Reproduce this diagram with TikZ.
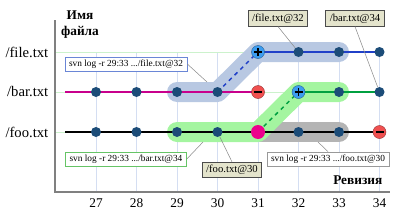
\documentclass[tikz,border=0pt]{standalone}
\usepackage{fontspec}
\setmainfont{Liberation Serif}
\definecolor{bandblue}{HTML}{B8C8E2}
\definecolor{bandgreen}{HTML}{A4F5A0}
\definecolor{bandgray}{HTML}{B4B4B4}
\definecolor{lineblue}{HTML}{2040C8}
\definecolor{linemag}{HTML}{C8008C}
\definecolor{linegreen}{HTML}{00A040}
\definecolor{dotblue}{HTML}{1C4C78}
\definecolor{plusblue}{HTML}{3C9CF0}
\definecolor{minusred}{HTML}{F05050}
\definecolor{khaki}{HTML}{E4E4CC}
\definecolor{gridblue}{HTML}{D4DEF2}
\definecolor{gridgreen}{HTML}{CCF2CC}
\definecolor{axisgray}{HTML}{808080}
\definecolor{boxblue}{HTML}{6A86D6}
\definecolor{boxgreen}{HTML}{66C466}
\begin{document}
\begin{tikzpicture}[x=0.75pt,y=-0.75pt,
 band/.style={line width=15pt, line cap=round, line join=round},
 dot/.style={circle, fill=dotblue, inner sep=0pt, minimum size=7.5pt},
 addnode/.style={circle, fill=plusblue, draw=plusblue!60!black, line width=0.3pt, inner sep=0pt, minimum size=9.75pt,
   path picture={\draw[black,line width=0.9pt] ([xshift=-3pt]path picture bounding box.center) -- ([xshift=3pt]path picture bounding box.center) ([yshift=-3pt]path picture bounding box.center) -- ([yshift=3pt]path picture bounding box.center);}},
 delnode/.style={circle, fill=minusred, draw=minusred!60!black, line width=0.3pt, inner sep=0pt, minimum size=9.75pt,
   path picture={\draw[black,line width=0.9pt] ([xshift=-3pt]path picture bounding box.center) -- ([xshift=3pt]path picture bounding box.center);}},
 mergenode/.style={circle, fill=magenta, inner sep=0pt, minimum size=10.5pt},
 svnbox/.style={draw, fill=white, font=\fontsize{7}{8}\selectfont, inner xsep=3pt, inner ysep=0pt, minimum height=10.5pt, line width=0.6pt},
 tagbox/.style={draw=black!70, fill=khaki, font=\fontsize{8}{9}\selectfont, inner xsep=3pt, inner ysep=0pt, minimum height=11.5pt, line width=0.6pt},
 callout/.style={draw=black!45, line width=0.4pt},
 rowlabel/.style={anchor=east, font=\fontsize{11}{13}\selectfont},
 ticklabel/.style={font=\fontsize{10}{12}\selectfont},
 gridv/.style={draw=gridblue, line width=0.7pt},
 gridh/.style={draw=gridgreen, line width=0.7pt},
]
\useasboundingbox (0,0) rectangle (400,218);
% coordinates
\foreach \r in {27,...,34}{
  \pgfmathsetmacro{\xx}{96+(\r-27)*40.5}
  \coordinate (F\r) at (\xx,52);
  \coordinate (B\r) at (\xx,92);
  \coordinate (O\r) at (\xx,132);
  \coordinate (G\r) at (\xx,192);
}
\coordinate (Fs) at (55,52);
\coordinate (Bs) at (55,92);
\coordinate (Os) at (55,132);
\coordinate (Bl) at (65,92);
\coordinate (Ol) at (65,132);
\coordinate (Atop) at (55,20);
\coordinate (Aorig) at (55,192);
\coordinate (Aright) at (390,192);
% grid
\foreach \r in {27,...,34}{ \draw[gridv] (F\r) -- (G\r); }
\draw[gridh] (Fs) -- (F34);
\draw[gridh] (Bs) -- (B34);
\draw[gridh] (Os) -- (O34);
% axes
\draw[axisgray, line width=0.9pt] (Atop) -- (Aorig) -- (Aright);
% bands
\draw[band, bandgray] (O31) -- (O33);
\draw[band, bandblue] (B29) -- (B30) -- (F31) -- (F33);
\draw[band, bandgreen] (O29) -- (O31) -- (B32) -- (B33);
% lines
\draw[linemag, line width=1.5pt] (Bl) -- (B31);
\draw[black, line width=1.8pt] (Ol) -- (O34);
\draw[lineblue, line width=1.5pt] (F31) -- (F34);
\draw[linegreen, line width=1.5pt] (B32) -- (B34);
\draw[lineblue, line width=1.1pt, dashed] (B30) -- (F31);
\draw[linegreen, line width=1.1pt, dashed] (O31) -- (B32);
% nodes
\foreach \r in {32,33,34}{ \node[dot] (nF\r) at (F\r) {}; }
\node[addnode] (nF31) at (F31) {};
\foreach \r in {27,28,29,30,33,34}{ \node[dot] (nB\r) at (B\r) {}; }
\node[delnode] (nB31) at (B31) {};
\node[addnode] (nB32) at (B32) {};
\foreach \r in {27,28,29,30,32,33}{ \node[dot] (nO\r) at (O\r) {}; }
\node[mergenode] (nO31) at (O31) {};
\node[delnode] (nO34) at (O34) {};
% labels
\node[rowlabel] (lF) at (53,52) {/file.txt};
\node[rowlabel] (lB) at (53,92) {/bar.txt};
\node[rowlabel] (lO) at (53,132) {/foo.txt};
\node[font=\bfseries\fontsize{10}{12}\selectfont, align=center] (ylab) at (80,25) {Имя\\файла};
\node[anchor=east, font=\bfseries\fontsize{10}{12}\selectfont] (xlab) at (387,180) {Ревизия};
\foreach \r in {27,...,34}{ \node[ticklabel] (t\r) at ([yshift=-8.25pt]G\r) {\r}; }
% callouts
\coordinate (cF) at (207,82);
\coordinate (cB) at (203,142);
\coordinate (cO) at (318,142);
\node[svnbox, draw=boxblue] (sF) at (126,64) {svn log -r 29:33 .../file.txt@32};
\node[svnbox, draw=boxgreen] (sB) at (126,159) {svn log -r 29:33 .../bar.txt@34};
\node[svnbox, draw=black!40] (sO) at (328,159) {svn log -r 29:33 .../foo.txt@30};
\node[tagbox] (kF) at (278,18.5) {/file.txt@32};
\node[tagbox] (kB) at (355,18.5) {/bar.txt@34};
\node[tagbox] (kO) at (232,170) {/foo.txt@30};
\draw[callout] (sF.east) -- (cF);
\draw[callout] (sB.east) -- (cB);
\draw[callout] (sO.north) -- (cO);
\draw[callout] (kF.south) -- (nF32);
\draw[callout] (kB.south) -- (nB34);
\draw[callout] (kO.north) -- (nO30);
\end{tikzpicture}
\end{document}
